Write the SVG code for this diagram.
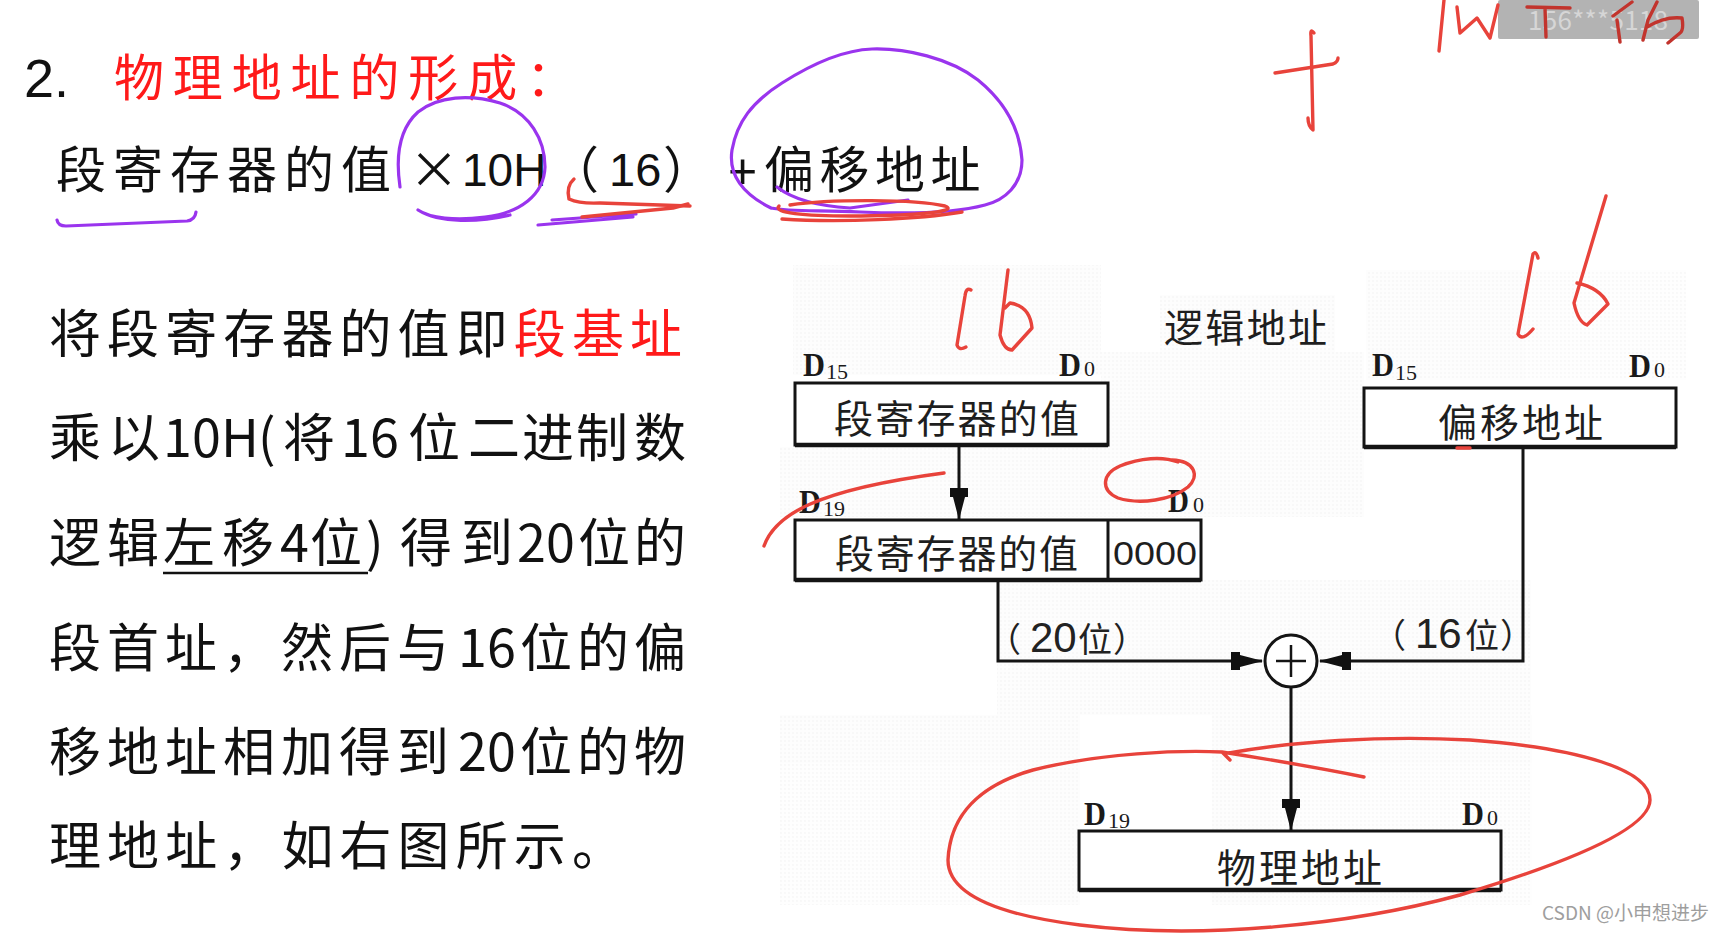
<svg xmlns="http://www.w3.org/2000/svg" width="1727" height="934" viewBox="0 0 1727 934">
<style>
.cjk{font-family:"Noto Sans CJK SC","Noto Sans",sans-serif;}
.sans{font-family:"Liberation Sans",Arial,sans-serif;}
.para{font-family:"Noto Sans CJK SC",sans-serif;font-size:52px;fill:#111;}
.box{fill:#fff;stroke:#141414;stroke-width:3;}
.boxtxt{font-family:"Noto Sans CJK SC",sans-serif;font-size:39px;fill:#1e1e1e;}
.dl{font-family:"Liberation Serif","Times New Roman",serif;font-size:34px;font-weight:bold;fill:#1a1a1a;}
.ds{font-family:"Liberation Serif","Times New Roman",serif;font-size:22px;fill:#1a1a1a;}
.lbl{font-family:"Noto Sans CJK SC",sans-serif;font-size:34px;fill:#222;}
.lbl .num{font-family:"Liberation Sans",Arial,sans-serif;font-size:42px;}
.wire{fill:none;stroke:#141414;stroke-width:3;}
.pur{fill:none;stroke:#9a34ee;stroke-width:3.2;stroke-linecap:round;stroke-linejoin:round;}
.red{fill:none;stroke:#e8433b;stroke-width:3.4;stroke-linecap:round;stroke-linejoin:round;}
.red2{fill:none;stroke:#c2342d;stroke-width:3.4;stroke-linecap:round;stroke-linejoin:round;}
</style>
<defs>
<pattern id="dots" width="4" height="4" patternUnits="userSpaceOnUse">
<rect width="4" height="4" fill="#fcfcfc"/>
<circle cx="1" cy="1" r="0.9" fill="#ececec"/>
</pattern>
<marker id="ah" viewBox="0 0 32 20" refX="31" refY="10" markerWidth="32" markerHeight="20" orient="auto" markerUnits="userSpaceOnUse">
<path d="M0,1 H9 V4 L32,10 L9,16 V19 H0 Z" fill="#111"/>
</marker>
</defs>
<rect width="1727" height="934" fill="#fff"/>

<!-- faint texture behind diagram -->
<g id="texture" opacity="0.45">
<rect x="793" y="265" width="308" height="110" fill="url(#dots)"/>
<rect x="1160" y="295" width="175" height="60" fill="url(#dots)"/>
<rect x="1101" y="352" width="263" height="165" fill="url(#dots)"/>
<rect x="1366" y="270" width="320" height="110" fill="url(#dots)"/>
<rect x="780" y="447" width="455" height="70" fill="url(#dots)"/>
<rect x="997" y="580" width="534" height="135" fill="url(#dots)"/>
<rect x="1212" y="715" width="320" height="190" fill="url(#dots)"/>
<rect x="780" y="715" width="300" height="190" fill="url(#dots)"/>
</g>

<!-- heading -->
<g id="heading">
<text class="sans" x="24" y="97" font-size="54" fill="#111">2.</text>
<text class="cjk" x="114" y="96" font-size="50" fill="#ff1a1a" textLength="462" lengthAdjust="spacing">物理地址的形成：</text>
</g>

<g id="formula">
<text class="cjk" x="56" y="188" font-size="50" fill="#111" letter-spacing="7">段寄存器的值</text>
<text class="cjk" x="409" y="188" font-size="50" fill="#111">×</text>
<text class="sans" x="462" y="186" font-size="46" fill="#111">10H</text>
<text class="cjk" x="549" y="188" font-size="50" fill="#111">（</text>
<text class="sans" x="609" y="186" font-size="47" fill="#111">16</text>
<text class="cjk" x="663" y="188" font-size="50" fill="#111">）</text>
<text class="sans" x="728" y="188" font-size="50" fill="#111">+</text>
<text class="cjk" x="764" y="188" font-size="50" fill="#111" letter-spacing="5.5">偏移地址</text>
</g>

<!-- paragraph -->
<g id="paragraph">
<text class="para" x="49" y="353" letter-spacing="6.1">将段寄存器的值即<tspan fill="#ff1a1a">段基址</tspan></text>
<text class="para" x="49 108 163 192 221 258 283 341 370 408 468 522 576 634" y="457">乘以10H(将16位二进制数</text>
<text class="para" x="49 107 163 222 280 310 366 400 461 517 546 578 634" y="562">逻辑左移4位)得到20位的</text>
<line x1="163" y1="573" x2="368" y2="573" stroke="#111" stroke-width="2.5"/>
<text class="para" x="49 107 165 223 281 339 397 458 487 520 577 634" y="667">段首址，然后与16位的偏</text>
<text class="para" x="49 107 165 223 281 339 397 458 487 520 577 634" y="771">移地址相加得到20位的物</text>
<text class="para" x="49" y="865" letter-spacing="6.1">理地址，如右图所示。</text>
</g>

<!-- diagram nodes -->
<g id="logical-label">
<text class="boxtxt" x="1164" y="342" font-size="40" textLength="163" lengthAdjust="spacing">逻辑地址</text>
</g>

<g id="seg-reg">
<rect class="box" x="795" y="383" width="313" height="62"/>
<line x1="795" y1="445" x2="1108" y2="445" stroke="#141414" stroke-width="4.5"/>
<text class="boxtxt" x="834" y="433" textLength="245" lengthAdjust="spacing">段寄存器的值</text>
<text class="dl" x="803" y="376" textLength="22" lengthAdjust="spacingAndGlyphs">D</text>
<text class="ds" x="826" y="379">15</text>
<text class="dl" x="1059" y="376" textLength="22" lengthAdjust="spacingAndGlyphs">D</text>
<text class="ds" x="1084" y="376">0</text>
</g>

<g id="offset">
<rect class="box" x="1364" y="388" width="312" height="59"/>
<line x1="1364" y1="447" x2="1676" y2="447" stroke="#141414" stroke-width="4.5"/>
<text class="boxtxt" x="1438" y="437" textLength="165" lengthAdjust="spacing">偏移地址</text>
<text class="dl" x="1372" y="376" textLength="22" lengthAdjust="spacingAndGlyphs">D</text>
<text class="ds" x="1395" y="380">15</text>
<text class="dl" x="1629" y="377" textLength="22" lengthAdjust="spacingAndGlyphs">D</text>
<text class="ds" x="1654" y="377">0</text>
</g>

<g id="shifted">
<rect class="box" x="795" y="520" width="406" height="60"/>
<line x1="1108" y1="520" x2="1108" y2="580" stroke="#141414" stroke-width="3"/>
<line x1="795" y1="580" x2="1201" y2="580" stroke="#141414" stroke-width="4.5"/>
<text class="boxtxt" x="835" y="568" textLength="243" lengthAdjust="spacing">段寄存器的值</text>
<text class="sans" x="1113" y="565" font-size="34" fill="#1e1e1e" textLength="84" lengthAdjust="spacingAndGlyphs">0000</text>
<text class="dl" x="799" y="513" textLength="22" lengthAdjust="spacingAndGlyphs">D</text>
<text class="ds" x="823" y="516">19</text>
<text class="dl" x="1168" y="512" textLength="21" lengthAdjust="spacingAndGlyphs">D</text>
<text class="ds" x="1193" y="512">0</text>
</g>

<g id="adder">
<circle cx="1291" cy="661" r="26" fill="#fff" stroke="#141414" stroke-width="3"/>
<line x1="1276" y1="661" x2="1306" y2="661" stroke="#141414" stroke-width="2.5"/>
<line x1="1291" y1="645" x2="1291" y2="677" stroke="#141414" stroke-width="2.5"/>
</g>

<g id="physical">
<rect class="box" x="1079" y="831" width="422" height="59"/>
<line x1="1079" y1="890" x2="1501" y2="890" stroke="#141414" stroke-width="4.5"/>
<text class="boxtxt" x="1217" y="882" textLength="165" lengthAdjust="spacing">物理地址</text>
<text class="dl" x="1084" y="825" textLength="22" lengthAdjust="spacingAndGlyphs">D</text>
<text class="ds" x="1108" y="828">19</text>
<text class="dl" x="1462" y="825" textLength="22" lengthAdjust="spacingAndGlyphs">D</text>
<text class="ds" x="1487" y="825">0</text>
</g>

<!-- connectors -->
<g id="connectors">
<path class="wire" d="M959,445 V519" marker-end="url(#ah)"/>
<path class="wire" d="M998,580 V661 H1262" marker-end="url(#ah)"/>
<path class="wire" d="M1523,447 V661 H1320" marker-end="url(#ah)"/>
<path class="wire" d="M1291,687 V830" marker-end="url(#ah)"/>
<text class="lbl" y="652"><tspan x="987">（</tspan><tspan class="num" x="1030">20</tspan><tspan x="1078">位</tspan><tspan x="1113">）</tspan></text>
<text class="lbl" y="648"><tspan x="1372">（</tspan><tspan class="num" x="1415">16</tspan><tspan x="1465">位</tspan><tspan x="1500">）</tspan></text>
</g>

<!-- watermark box top right -->
<g id="user-tag">
<rect x="1498" y="0" width="201" height="39" rx="2" fill="#b3b3b3"/>
<text class="cjk" x="1528" y="30" font-size="26" fill="#d6d6d6" textLength="140" lengthAdjust="spacing">156***5118</text>
</g>

<!-- purple annotations -->
<g id="purple-ink">
<path class="pur" d="M57,220 Q58,226 66,226 L187,221 Q195,220 196,212"/>
<path class="pur" d="M400,187 C396,160 398,130 418,112 C438,96 470,94 500,103 C530,113 545,140 545,167 C544,195 520,213 485,217 C455,221 430,218 418,210 C440,224 480,222 510,215"/>
<path class="pur" d="M538,225 L633,217 M552,220 L636,214"/>
<path class="pur" d="M771,208 C745,195 728,176 732,150 C737,122 752,102 782,83 C815,62 845,50 872,49 C905,48 950,58 978,80 C1005,102 1020,130 1022,160 C1022,185 1005,200 985,205 C955,213 905,214 860,212 C820,210 790,212 771,208"/>
<path class="pur" d="M777,187 Q800,205 850,208 L908,200"/>
</g>

<!-- red annotations -->
<g id="red-ink">
<path class="red" d="M574,179 Q566,186 569,199 Q580,204 600,203 L690,206"/>
<path class="red" d="M582,217 L673,208 L688,204" stroke-width="5"/>
<path class="red" d="M790,205 C830,199 915,199 945,206 C962,212 905,216 850,216 C805,216 772,213 779,206"/>
<path class="red" d="M782,219 C840,223 920,219 962,212"/>
<path class="red" d="M1314,33 Q1310,28 1311,36 L1313,130 Q1308,126 1308,118"/>
<path class="red" d="M1275,73 L1333,64 Q1338,62 1338,58"/>
<path class="red" d="M1444,0 L1439,51"/>
<path class="red" d="M1457,7 L1460,33 L1477,18 L1490,38 L1498,5"/>
<path class="red2" d="M1527,7 L1570,8 M1545,8 L1546,37"/>
<path class="red2" d="M1632,2 L1613,16 M1617,20 L1620,42"/>
<path class="red2" d="M1657,2 L1648,20 L1643,40 M1647,27 Q1665,16 1682,18 Q1684,30 1680,33 L1668,43"/>
<path class="red" d="M971,290 Q966,287 965,296 L957,345 Q959,351 966,347"/>
<path class="red" d="M1008,270 L1000,335 Q1004,350 1012,350 L1032,328 Q1030,306 1010,303 L1005,308"/>
<path class="red" d="M1538,258 Q1536,250 1533,254 L1518,334 Q1522,342 1533,329"/>
<path class="red" d="M1606,196 L1574,303 Q1578,322 1587,325 L1608,304 Q1600,288 1577,283"/>
<path class="red" d="M1457,448 L1470,448" stroke-width="2.5"/>
<path class="red" d="M764,546 C775,515 815,490 944,473"/>
<path class="red" d="M1172,460 C1195,461 1200,476 1188,487 C1172,500 1140,505 1118,498 C1100,490 1102,474 1120,466 C1140,458 1162,456 1178,462"/>
<path class="red" d="M1364,777 C1320,768 1260,758 1222,752 L1230,760 M1222,752 C1180,750 1100,753 1033,770 C980,785 950,815 948,860 C948,895 1000,915 1080,925 C1200,940 1350,925 1460,895 C1560,865 1650,830 1650,800 C1650,770 1580,748 1470,740 C1380,735 1290,742 1229,753"/>
</g>

<g id="csdn">
<text class="cjk" x="1542" y="920" font-size="19" fill="#9e9e9e">CSDN @小申想进步</text>
</g>
</svg>
